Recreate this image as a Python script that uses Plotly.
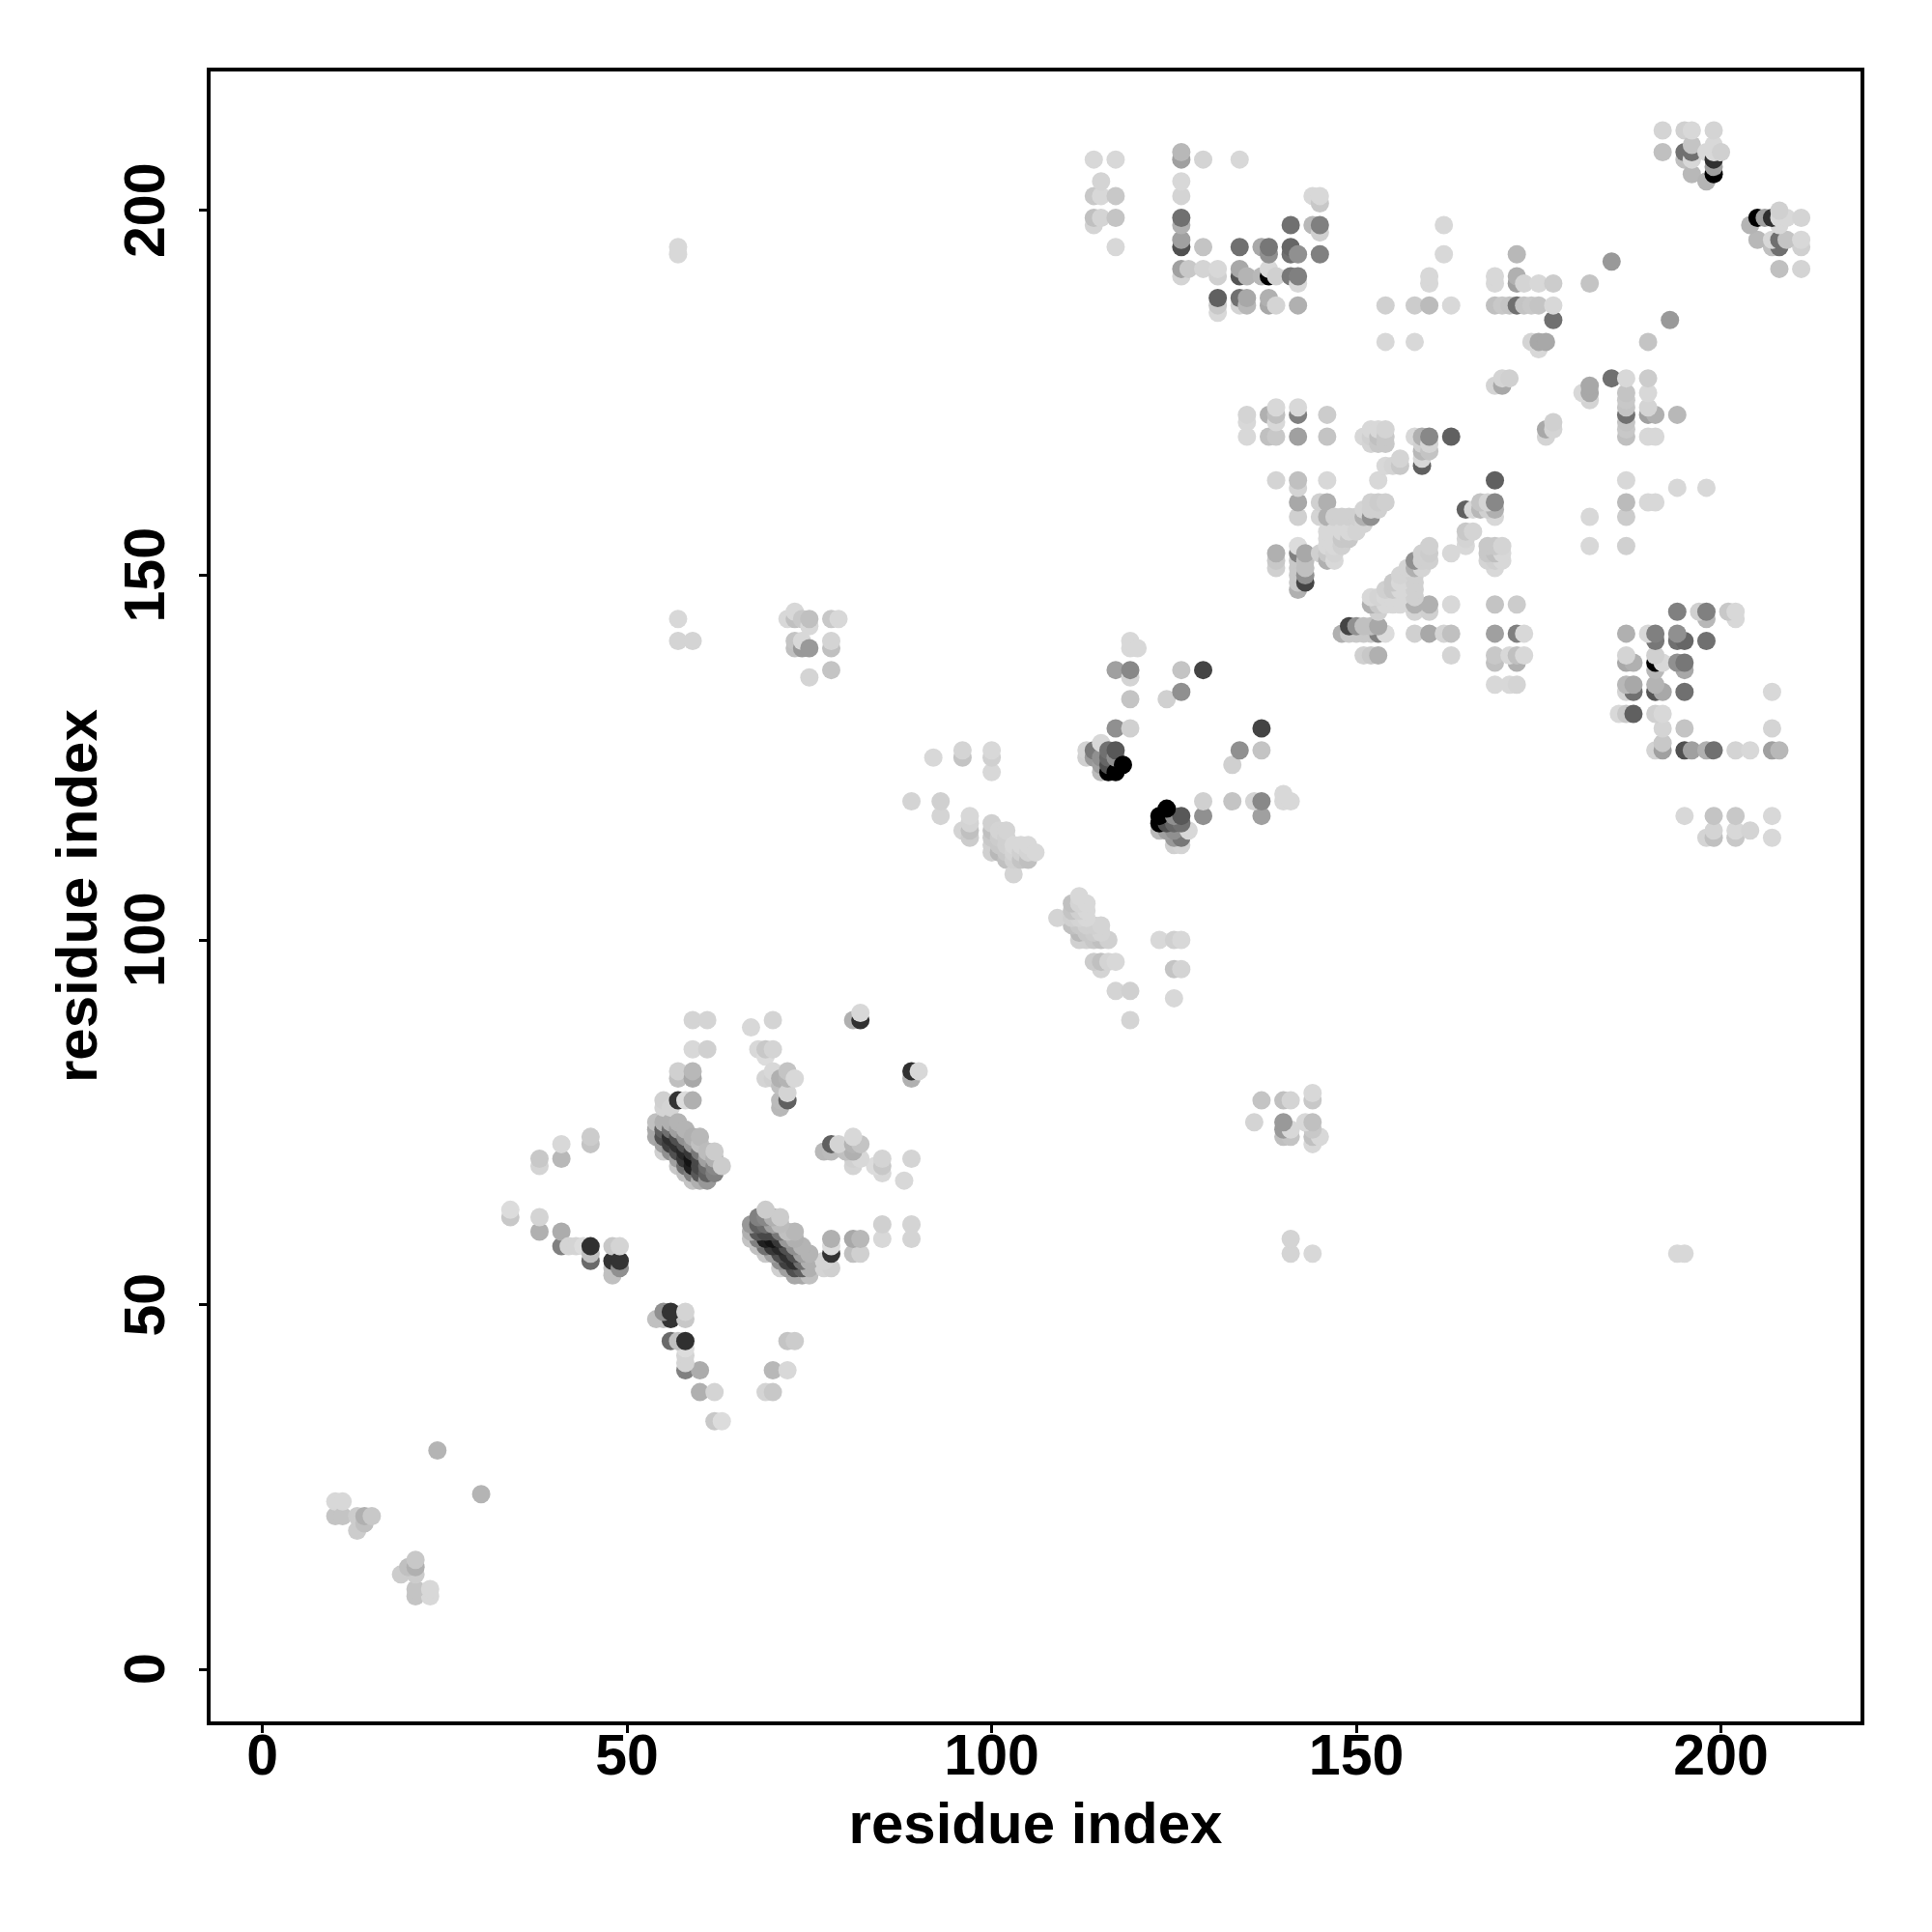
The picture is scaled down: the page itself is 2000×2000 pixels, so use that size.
import plotly.graph_objects as go

residue_i = [10, 11, 13, 14, 15, 24, 34, 38, 41, 42, 43, 44, 45, 48, 49,
             54, 55, 56, 57, 58, 59, 60, 61, 62, 63,
             67, 68, 69, 70, 71, 72, 73, 74, 75, 78, 79, 81, 82, 89,
             92, 93, 96, 97, 100, 101, 102, 103, 104, 105, 106,
             113, 114, 115, 116, 117, 118, 119, 120, 124, 126, 127, 129, 131,
             134, 135, 137, 138, 139, 141, 142, 143, 144, 145, 146, 147, 148, 149, 150,
             151, 152, 153, 154, 155, 156, 157, 158, 159, 160, 162, 163,
             169, 170, 171, 172, 173, 174, 175, 176, 177, 182, 185,
             192, 195, 196, 198, 199, 200]

partner_j = [
    [21, 23], [21, 23], [19, 21], [20, 21], [21], [30], [62, 63],
    [60, 62, 69, 70], [58, 60, 70, 72], [58], [58], [58],
    [56, 57, 58, 72, 73], [54, 55, 56, 58], [55, 56, 58],
    [73, 74, 75],
    [71, 72, 73, 74, 75, 77, 78],
    [71, 72, 73, 74, 75, 77],
    [69, 70, 71, 72, 73, 74, 75, 78, 81, 82, 141, 144, 194, 195],
    [68, 69, 70, 71, 72, 73, 74, 78],
    [67, 68, 69, 70, 71, 72, 73, 78, 81, 82, 85, 89, 141],
    [67, 68, 69, 70, 71, 72, 73],
    [67, 68, 69, 70, 71, 85, 89],
    [68, 69, 70, 71],
    [69],
    [88], [85], [81, 84, 85], [81, 82, 85, 89],
    [77, 78, 80, 81], [78, 79, 81, 82, 144], [81, 140, 141, 144, 145],
    [140, 141, 144], [136, 140, 143, 144], [137, 140, 141, 144], [144],
    [89], [89, 90], [119],
    [125], [117, 119], [115, 125, 126], [114, 115, 116, 117],
    [112, 113, 114, 115, 116, 123, 125, 126],
    [112, 113, 114, 115],
    [111, 112, 113, 114, 115],
    [109, 111, 112, 113],
    [111, 112, 113],
    [111, 112, 113],
    [112],
    [125, 126], [125, 126, 198, 199, 202, 207], [123, 124, 125, 127, 199, 202, 204],
    [123, 124, 125, 126], [123, 125, 126, 129, 137, 195, 199, 202, 207], [124],
    [129, 133, 136, 137, 140, 141], [140], [133],
    [134, 137, 191, 192, 195, 196, 198, 199, 202, 204, 207, 208],
    [192], [137, 192, 195, 207], [186, 187, 188, 191, 192],
    [187, 188, 191, 192, 195, 207],
    [169, 171, 172, 187, 188, 191],
    [191, 195],
    [169, 172, 187, 188, 191, 192, 194, 195],
    [151, 152, 153, 163, 169, 171, 172, 173, 187, 191],
    [191, 194, 195, 198],
    [148, 149, 150, 151, 152, 153, 154, 158, 160, 162, 163, 169, 172, 173, 187, 190, 191, 194],
    [149, 150, 151, 152, 153],
    [198, 202],
    [153, 158, 160, 194, 197, 198, 201, 202],
    [152, 153, 154, 155, 156, 158, 160, 163, 169, 172],
    [152, 153, 154, 155, 156, 158],
    [154, 155, 156, 158],
    [155, 156, 158],
    [156, 158],
    [157, 158, 159, 169],
    [158, 159, 160, 168, 169, 170],
    [159, 160, 163, 168, 169, 170],
    [160, 165, 168, 169, 170, 182, 187],
    [165],
    [165, 166],
    [],
    [169, 182, 187],
    [165, 166, 167, 168, 169],
    [167, 168, 169, 187, 190, 191],
    [194, 198],
    [169, 187],
    [176, 187, 190, 191],
    [176, 177, 187],
    [177, 187],
    [187, 190, 191, 194],
    [187, 190],
    [182, 187],
    [181, 182, 187, 190],
    [182],
    [185, 187, 190],
    [190],
    [193],
    [208, 211], [207, 208, 211], [205, 207, 208, 209, 211], [204, 208],
    [205, 206, 207, 208, 209, 211], [208],
]

shade_hex = [
    "c4 d8", "c4 d8", "cc cc", "c0 b0", "c8", "b4", "c8 dc",
    "b0 d4 d4 c8", "80 ac b8 d8", "d4", "d4", "dc",
    "6a c0 30 c4 cc", "c0 c0 33 c8", "90 33 d4",
    "a8 a8 c0",
    "d0 a0 50 60 b0 d4 d0",
    "90 40 30 70 b0 d4",
    "c8 a0 50 30 50 a0 b4 33 c0 d0 d4 d8 d8 d8",
    "c0 70 38 28 50 90 b4 dc",
    "c4 80 20 14 38 98 b0 b0 a8 b8 d8 d4 d4",
    "b0 58 48 48 78 c0 b8",
    "98 60 6c a0 bc d0 d4",
    "80 88 b0 cc",
    "cc",
    "d8", "d8", "d4 dc c8", "d0 d8 d4 d4",
    "b8 bb c0 b0", "60 d4 b4 c4 d8", "d8 c0 c4 c0 d8",
    "99 d8 c8", "d4 99 d8 c0", "c4 c0 d4 c8", "d8",
    "b0", "30 d8", "d4",
    "d8", "d4 d0", "d4 c4 d4", "cc c0 d4 d8",
    "d0 d0 c8 c0 d0 d8 d0 d8",
    "b8 c8 cc d4",
    "c0 c8 d0 d0 d4",
    "d4 d0 d4 d8",
    "c4 d0 d8",
    "c0 d4 d8",
    "d8",
    "d0 d4", "99 78 d4 c0 c8 d8", "bb a0 90 d8 d4 d8 d4",
    "00 50 66 70", "00 90 58 90 a0 d8 c4 c8 d8", "00",
    "d0 c4 d4 88 d8 d8", "d8", "d0",
    "90 c4 d4 a0 50 a0 b0 70 d4 d8 a0 b8",
    "c8", "44 d4 c4 d4", "d8 c8 60 d0 d8",
    "d4 70 55 a8 70 d8",
    "d8 d8 d4 b8 a8 b4",
    "b8 a8",
    "c0 b0 a8 b0 00 d8 90 77",
    "d0 c8 b0 d4 c8 d8 c0 d8 d4 d0",
    "77 70 66 70",
    "b0 c8 c8 c8 c8 80 dc d0 a8 d4 c0 a0 80 d8 b0 d8 80 90",
    "44 90 c0 c0 a8",
    "b8 d8",
    "d0 d4 d0 80 d0 80 c8 d8",
    "b0 c8 d8 d8 d8 b0 b0 d8 c4 cc",
    "d8 d4 d8 d8 d8 d0",
    "d0 c8 d8 d0",
    "c8 d8 d0",
    "d4 d0",
    "d4 b0 d4 d8",
    "90 d0 d0 d4 d0 d8",
    "d0 cc d8 c8 c0 d8",
    "d0 d8 c8 c8 d4 d8 d0",
    "d4",
    "c8 d4",
    "",
    "d8 d8 cc",
    "60 d8 b8 d0 b0",
    "c4 d4 88 bb d8 d8",
    "d8 d8",
    "60 d8",
    "d4 c0 d8 d8",
    "a8 d4 c8",
    "d0 c4",
    "70 a0 b0 b8",
    "c4 d4",
    "d4 c8",
    "d8 a8 c4 d8",
    "a8",
    "70 d8 cc",
    "c4",
    "99",
    "c0 d4", "c0 70 d0", "b8 d8 70 c4 d8", "b4 d8",
    "00 a0 30 d8 d8 d4", "d0",
]

tick_values = [0, 50, 100, 150, 200]
axis_title = "residue index"

# every contact is a residue pair, drawn at (i, j) and again at (j, i)
pairs = []
for i, js, shades in zip(residue_i, partner_j, shade_hex, strict=True):
    for j, s in zip(js, shades.split(), strict=True):
        pairs.append((i, j, int(s, 16)))

pairs.sort(key=lambda p: (p[0], p[1]))
xs = [p[0] for p in pairs] + [p[1] for p in pairs]
ys = [p[1] for p in pairs] + [p[0] for p in pairs]
gs = [p[2] for p in pairs] * 2

fig = go.Figure(go.Scatter(
    x=xs, y=ys, mode="markers",
    marker=dict(size=19, color=[f"rgb({g},{g},{g})" for g in gs], line=dict(width=0)),
    hoverinfo="skip",
))

font_tick = dict(family="Liberation Sans", size=59, color="black", weight=700)
font_title = dict(family="Liberation Sans", size=60, color="black", weight=700)
axis_common = dict(
    tickvals=tick_values,
    ticks="outside", ticklen=8, tickwidth=3, tickcolor="black",
    showline=True, linecolor="black", linewidth=4, mirror=True,
    showgrid=False, zeroline=False, tickfont=font_tick,
)
fig.update_xaxes(range=[-7.1, 219.13], ticklabelstandoff=-28,
                 ticktext=[str(v) for v in tick_values],
                 title=dict(text=axis_title, font=font_title, standoff=18), **axis_common)
fig.update_yaxes(range=[-7.15, 219.07], showticklabels=False, **axis_common)

# rotated y labels are centred on their ticks, as annotations
for v in tick_values:
    fig.add_annotation(text=str(v), xref="paper", yref="y", x=0, y=v, xshift=-68,
                       textangle=-90, showarrow=False, xanchor="center", yanchor="middle",
                       font=font_tick)
fig.add_annotation(text=axis_title, xref="paper", yref="paper", x=0, y=0.5, xshift=-139,
                   textangle=-90, showarrow=False, xanchor="center", yanchor="middle",
                   font=font_title)

fig.update_layout(
    width=1984, height=1984, autosize=False,
    margin=dict(l=210, r=66, t=66, b=210, autoexpand=False),
    plot_bgcolor="white", paper_bgcolor="white", showlegend=False,
)
fig.write_html("out.html")
